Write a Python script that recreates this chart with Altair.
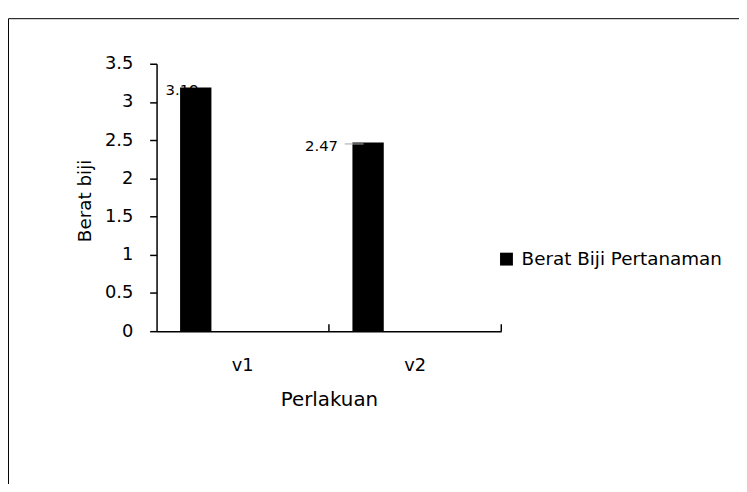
import altair as alt
import pandas as pd

# ---- data ----
categories = ["v1", "v2"]
values = [3.19, 2.47]
value_labels = ["3.19", "2.47"]
series_name = "Berat Biji Pertanaman"
y_ticks = [0, 0.5, 1, 1.5, 2, 2.5, 3, 3.5]
# Excel cluster has four series slots; only the first holds data
offset_slots = [series_name, " ", "  ", "   "]

df = pd.DataFrame({
    "Perlakuan": categories,
    "Berat": values,
    "Seri": [series_name] * len(categories),
    "Label": value_labels,
})

W, H = 760, 480
FONT = "DejaVu Sans"

x_scale = alt.Scale(domain=categories, range=[150, 498], paddingInner=0, paddingOuter=0)
y_scale = alt.Scale(domain=[0, 3.5], range=[316, 46], nice=False, zero=True)
off_scale = alt.Scale(domain=offset_slots, paddingInner=0, paddingOuter=0.75)

x_axis = alt.Axis(
    title="Perlakuan", orient="bottom", offset=-(H - 316), labelAngle=0,
    ticks=False, domainColor="black", domainWidth=1.5,
    labelFontSize=18, labelColor="black", labelBaseline="alphabetic", labelPadding=40,
    labelFont=FONT, titleFont=FONT, titleFontSize=20, titleFontWeight="normal",
    titleColor="black", titleX=324, titleY=75, titleBaseline="alphabetic",
)
y_axis = alt.Axis(
    title="Berat biji", values=y_ticks, labelExpr="'' + datum.value",
    offset=-150, grid=False, tickSize=7, tickWidth=1.5, tickColor="black",
    domainColor="black", domainWidth=1.5, labelFontSize=18, labelColor="black",
    labelPadding=17, labelFont=FONT, titleFont=FONT, titleFontSize=18.5,
    titleFontWeight="normal", titleColor="black", titleX=-67, titleY=184,
    titleBaseline="alphabetic", titleAlign="center",
)

base = alt.Chart(df)

X = alt.X("Perlakuan:N", scale=x_scale, axis=x_axis)
XO = alt.XOffset("Seri:N", scale=off_scale)
Y = alt.Y("Berat:Q", scale=y_scale, axis=y_axis)

lab1 = base.transform_filter(alt.datum.Perlakuan == "v1").mark_text(
    dx=-13.8, dy=8, baseline="alphabetic", align="center", fontSize=15,
    font=FONT, color="black"
).encode(x=X, xOffset=XO, y=Y, text="Label:N")

lab2 = base.transform_filter(alt.datum.Perlakuan == "v2").mark_text(
    dx=-47, dy=9, baseline="alphabetic", align="center", fontSize=15,
    font=FONT, color="black"
).encode(x=X, xOffset=XO, y=Y, text="Label:N")

bars = base.mark_bar().encode(
    x=X, xOffset=XO, y=Y,
    color=alt.Color(
        "Seri:N",
        scale=alt.Scale(domain=[series_name], range=["#000000"]),
        legend=alt.Legend(
            title=None, orient="none", legendX=494, legendY=234,
            symbolType="square", symbolSize=169, symbolStrokeWidth=0,
            labelFontSize=18.5, labelColor="black", labelFont=FONT,
            labelOffset=6, labelLimit=0, padding=0,
        ),
    ),
)

leader = base.transform_filter(alt.datum.Perlakuan == "v2").mark_tick(
    orient="horizontal", size=19, thickness=1.5, color="#a6a6a6",
    xOffset=-61.5, yOffset=1.5
).encode(x=X, y=Y)

xticks = base.mark_rule(color="black", strokeWidth=1.5, y2Offset=-7).encode(
    x=alt.X("Perlakuan:N", bandPosition=1),
    y=alt.datum(0), y2=alt.datum(0),
)

chart = alt.layer(lab1, lab2, bars, leader, xticks).properties(
    width=W, height=H,
    padding={"left": 0, "top": 8, "right": -22, "bottom": -12},
    background="white",
).configure(font=FONT).configure_view(stroke="black", strokeWidth=1)

chart.save("out.html", embed_options={"renderer": "svg", "actions": False})
